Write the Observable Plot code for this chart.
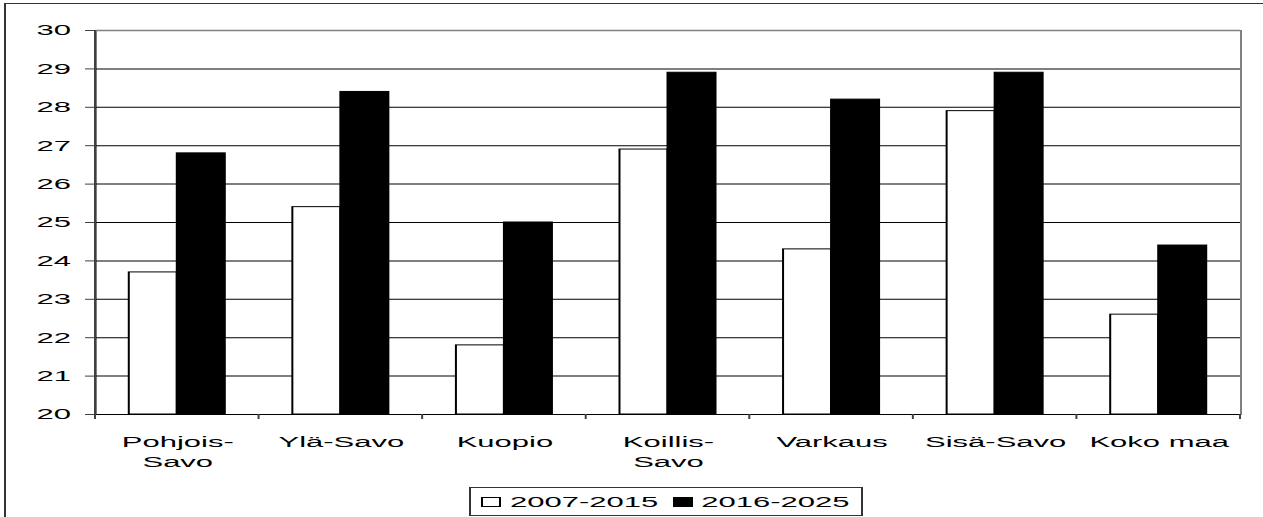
<!DOCTYPE html>
<html><head><meta charset="utf-8">
<script src="https://cdn.jsdelivr.net/npm/d3@7"></script>
<script src="https://cdn.jsdelivr.net/npm/@observablehq/plot@0.6"></script>
<style>
body{margin:0;background:#fff;font-family:"Liberation Sans",Arial,sans-serif;}
#wrap{position:relative;width:1263px;height:517px;overflow:hidden;background:#fff;}
#wrap svg{position:absolute;left:0;top:0;}
#border{position:absolute;left:4px;top:3px;width:1300px;height:600px;border-top:1.5px solid #333;border-left:2px solid #333;pointer-events:none;}
#legend{position:absolute;left:469px;top:487px;width:196.5px;height:29px;transform:scaleX(2);transform-origin:0 0;box-sizing:border-box;border:1px solid #333;display:flex;align-items:center;font-size:15.5px;color:#000;background:#fff;white-space:nowrap;}
.sw{display:inline-block;width:10px;height:10px;box-sizing:border-box;border:1px solid #000;}
</style>
</head><body>
<div id="wrap"><div id="border"></div></div>
<script>
// ---- data ----
const categories = ["Pohjois-Savo","Ylä-Savo","Kuopio","Koillis-Savo","Varkaus","Sisä-Savo","Koko maa"];
const categoryLabels = ["Pohjois-\nSavo","Ylä-Savo","Kuopio","Koillis-\nSavo","Varkaus","Sisä-Savo","Koko maa"];
const seriesNames = ["2007-2015","2016-2025"];
const values2007_2015 = [23.7,25.4,21.8,26.9,24.3,27.9,22.6];
const values2016_2025 = [26.8,28.4,25.0,28.9,28.2,28.9,24.4];
const yTicks = [20,21,22,23,24,25,26,27,28,29,30];

// ---- layout (drawn at half width, stretched 2x horizontally like the source) ----
const W = 631.5, H = 517, ml = 47.5, mr = 11.5, mt = 30, mb = 103;
const step = (W - ml - mr) / categories.length;
const outer = 0.2065, barFrac = 0.2935;

const rows = categories.map((c, i) => ({cat: c, label: categoryLabels[i], a: values2007_2015[i], b: values2016_2025[i]}));

function boundaryTicks(index, scales, values, dims) {
  const x = scales.x;
  const bw = x.bandwidth ? x.bandwidth() : step;
  const xs = categories.map(c => x(c));
  xs.push(x(categories[categories.length - 1]) + bw);
  const y0 = dims.height - dims.marginBottom;
  const g = d3.create("svg:g");
  g.selectAll("line.t").data(xs).join("line")
    .attr("x1", d => d).attr("x2", d => d)
    .attr("y1", y0).attr("y2", y0 + 5)
    .attr("stroke", "#404040").attr("stroke-width", 1);
  g.append("line")
    .attr("x1", xs[0]).attr("x2", xs[0])
    .attr("y1", dims.marginTop).attr("y2", y0)
    .attr("stroke", "#404040").attr("stroke-width", 1);
  return g.node();
}

const chart = Plot.plot({
  width: W, height: H,
  marginLeft: ml, marginRight: mr, marginTop: mt, marginBottom: mb,
  style: {fontFamily: "'Liberation Sans', Arial, sans-serif", fontSize: "15.5px", color: "#000", background: "transparent", overflow: "visible"},
  x: {type: "band", domain: categories, padding: 0, round: false, axis: null},
  y: {domain: [20, 30], ticks: yTicks, tickSize: 5, tickPadding: 7.5, label: null},
  marks: [
    Plot.frame({stroke: "#808080", strokeWidth: 1}),
    Plot.ruleY(yTicks.slice(1, -1), {stroke: "#000", strokeWidth: 1}),
    Plot.ruleY([30], {stroke: "#808080", strokeWidth: 1.5}),
    Plot.barY(rows, {x: "cat", y1: 20, y2: "a", fill: "white", stroke: "black", strokeWidth: 1,
      insetLeft: outer * step, insetRight: (1 - outer - barFrac) * step}),
    Plot.barY(rows, {x: "cat", y1: 20, y2: "b", fill: "black", stroke: "black", strokeWidth: 1,
      insetLeft: (outer + barFrac) * step, insetRight: outer * step}),
    Plot.ruleY([20], {stroke: "#000", strokeWidth: 1}),
    boundaryTicks,
    Plot.text(rows, {x: "cat", y: 20, text: "label", lineAnchor: "top", dy: 18, lineHeight: 1.29, fontSize: 15.5, fill: "#000"})
  ]
});

chart.setAttribute("preserveAspectRatio", "none");
chart.setAttribute("width", 1263);
chart.style.width = "1263px";
chart.style.height = "517px";
chart.style.maxWidth = "none";
chart.querySelectorAll("[aria-label='y-axis tick'] path, [aria-label='y-axis'] line").forEach(e => e.setAttribute("stroke", "#404040"));

const wrap = document.getElementById("wrap");
wrap.insertBefore(chart, wrap.firstChild);

// legend
const legend = document.createElement("div");
legend.id = "legend";
const fills = ["#fff", "#000"];
legend.innerHTML = seriesNames.map((s, i) =>
  `<span class="sw" style="background:${fills[i]};margin-left:${i === 0 ? 5 : 7}px;margin-right:4.5px"></span><span>${s}</span>`
).join("");
wrap.appendChild(legend);
</script>
</body></html>
